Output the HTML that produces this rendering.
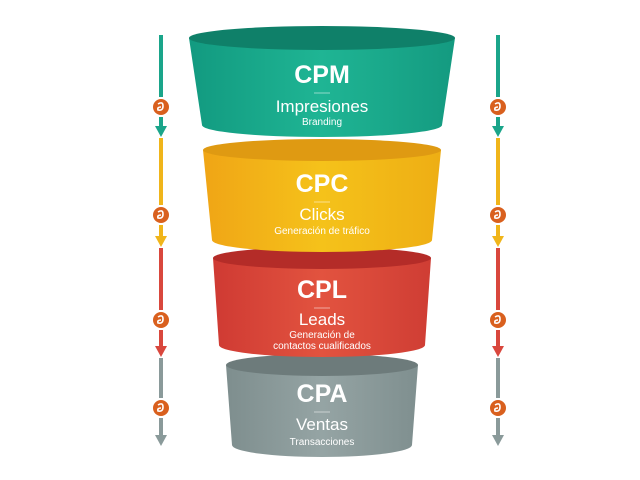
<!DOCTYPE html>
<html><head><meta charset="utf-8"><style>
html,body{margin:0;padding:0;background:#fff;width:640px;height:480px;overflow:hidden}
text{font-family:"Liberation Sans",sans-serif;fill:#fff;text-anchor:middle}
</style></head><body>
<svg width="640" height="480" viewBox="0 0 640 480" xmlns="http://www.w3.org/2000/svg">
<defs>
<linearGradient id="g1" x1="0" x2="1"><stop offset="0" stop-color="#129a80"/><stop offset="0.5" stop-color="#1fb594"/><stop offset="1" stop-color="#149a80"/></linearGradient>
<linearGradient id="g2" x1="0" x2="1"><stop offset="0" stop-color="#f0a516"/><stop offset="0.5" stop-color="#f5c21a"/><stop offset="1" stop-color="#eeae14"/></linearGradient>
<linearGradient id="g3" x1="0" x2="1"><stop offset="0" stop-color="#cf3a33"/><stop offset="0.5" stop-color="#e2533f"/><stop offset="1" stop-color="#cf3d34"/></linearGradient>
<linearGradient id="g4" x1="0" x2="1"><stop offset="0" stop-color="#7e8e8e"/><stop offset="0.5" stop-color="#95a4a4"/><stop offset="1" stop-color="#7f8f8f"/></linearGradient>
</defs>
<!-- gray -->
<path d="M226 365 L232 445 A90 12 0 0 0 412 445 L418 365 Z" fill="url(#g4)"/>
<ellipse cx="322" cy="365" rx="96" ry="11" fill="#6d7b7b"/>
<!-- red -->
<path d="M213 258 L219 345 A103 12 0 0 0 425 345 L431 258 Z" fill="url(#g3)"/>
<ellipse cx="322" cy="258" rx="109" ry="11" fill="#b42c28"/>
<!-- yellow -->
<path d="M203 150 L212 240 A110 12 0 0 0 432 240 L441 150 Z" fill="url(#g2)"/>
<ellipse cx="322" cy="150" rx="119" ry="11" fill="#df9a12"/>
<!-- green -->
<path d="M189 38 L202 125 A120 12 0 0 0 442 125 L455 38 Z" fill="url(#g1)"/>
<ellipse cx="322" cy="38" rx="133" ry="12" fill="#0f8069"/>

<text x="322" y="83" font-size="25" font-weight="bold">CPM</text>
<line x1="314" y1="93" x2="330" y2="93" stroke="#fff" stroke-opacity="0.5"/>
<text x="322" y="112" font-size="17">Impresiones</text>
<text x="322" y="125" font-size="10">Branding</text>

<text x="322" y="192" font-size="25" font-weight="bold">CPC</text>
<line x1="314" y1="202" x2="330" y2="202" stroke="#fff" stroke-opacity="0.5"/>
<text x="322" y="220" font-size="17">Clicks</text>
<text x="322" y="234" font-size="10">Generación de tráfico</text>

<text x="322" y="298" font-size="25" font-weight="bold">CPL</text>
<line x1="314" y1="308" x2="330" y2="308" stroke="#fff" stroke-opacity="0.5"/>
<text x="322" y="325" font-size="17">Leads</text>
<text x="322" y="338" font-size="10">Generación de</text>
<text x="322" y="349" font-size="10">contactos cualificados</text>

<text x="322" y="402" font-size="25" font-weight="bold">CPA</text>
<line x1="314" y1="412" x2="330" y2="412" stroke="#fff" stroke-opacity="0.5"/>
<text x="322" y="430" font-size="17">Ventas</text>
<text x="322" y="445" font-size="10">Transacciones</text>

<g id="arr">
<g stroke-width="4">
<line x1="161" y1="35" x2="161" y2="97" stroke="#1aa58a"/>
<line x1="161" y1="117" x2="161" y2="128" stroke="#1aa58a"/>
<line x1="161" y1="138" x2="161" y2="205" stroke="#f0b51a"/>
<line x1="161" y1="225" x2="161" y2="237" stroke="#f0b51a"/>
<line x1="161" y1="248" x2="161" y2="310" stroke="#d9473d"/>
<line x1="161" y1="330" x2="161" y2="346" stroke="#d9473d"/>
<line x1="161" y1="358" x2="161" y2="398" stroke="#8a9a9a"/>
<line x1="161" y1="418" x2="161" y2="436" stroke="#8a9a9a"/>
</g>
<polygon points="155,126 167,126 161,137" fill="#1aa58a"/>
<polygon points="155,236 167,236 161,247" fill="#f0b51a"/>
<polygon points="155,346 167,346 161,357" fill="#d9473d"/>
<polygon points="155,435 167,435 161,446" fill="#8a9a9a"/>
<g fill="#d9601e">
<circle cx="161" cy="107" r="8"/><circle cx="161" cy="215" r="8"/><circle cx="161" cy="320" r="8"/><circle cx="161" cy="408" r="8"/>
</g>
<g fill="none" stroke="#fff" stroke-width="1.6">
<path d="M158 104 Q163 101 163 106 Q163 111 158 110 Q157 107 161 107"/>
<path d="M158 212 Q163 209 163 214 Q163 219 158 218 Q157 215 161 215"/>
<path d="M158 317 Q163 314 163 319 Q163 324 158 323 Q157 320 161 320"/>
<path d="M158 405 Q163 402 163 407 Q163 412 158 411 Q157 408 161 408"/>
</g>
</g>
<use href="#arr" x="337"/>
</svg>
</body></html>
